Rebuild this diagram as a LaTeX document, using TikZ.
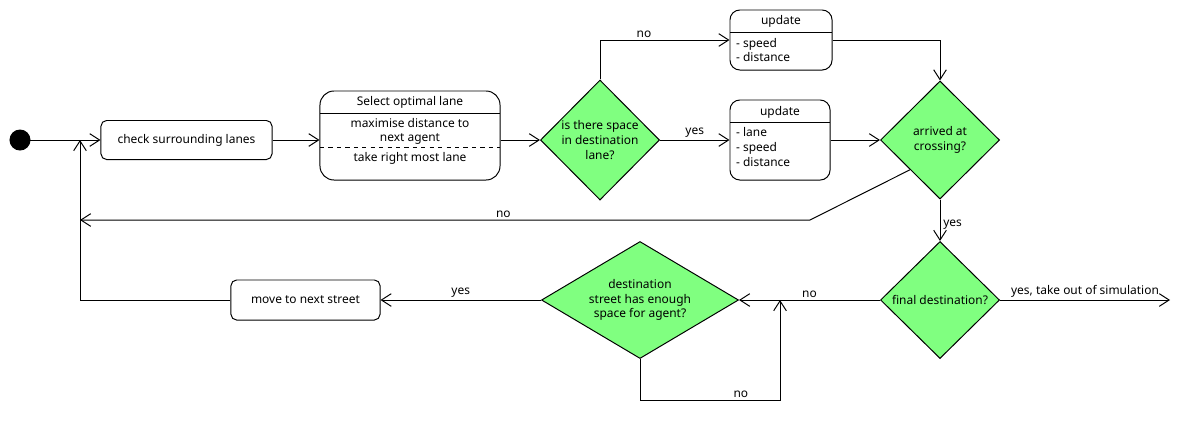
\documentclass[tikz,border=0pt]{standalone}
\usepackage{fontspec}
\setmainfont{Noto Sans}
\usetikzlibrary{shapes.geometric,arrows.meta}
\definecolor{decgreen}{HTML}{80FF80}
\begin{document}
\begin{tikzpicture}[x=0.025cm, y=-0.025cm, line width=0.7pt,
        font=\fontsize{8.5}{10.4}\selectfont,
        flow/.style={-{Straight Barb[length=7pt,width=9pt]}},
        tag/.style={above, inner sep=1.5pt},
        action/.style={draw, rounded corners=4pt, fill=white},
        decision/.style={draw, diamond, fill=decgreen, inner sep=0pt}]
        \useasboundingbox (0,0) rectangle (1200,430);

        \node[draw, circle, fill=black, minimum size=0.5cm, inner sep=0pt] (start) at (20,140) {};
        \node[action, minimum width=4.275cm, minimum height=0.975cm] (check) at (186.5,140) {check surrounding lanes};

        \node[action, rounded corners=10pt, minimum width=4.5cm, minimum height=2.225cm] (select) at (410,135.5) {};
        \node (selT) at (410,102) {Select optimal lane};
        \draw (320,113) -- (500,113);
        \node[align=center] (selA) at (410,131.5) {maximise distance to\\next agent};
        \draw[dashed] (320,147) -- (500,147);
        \node (selB) at (410,158) {take right most lane};

        \node[action, rounded corners=7pt, minimum width=2.55cm, minimum height=1.5cm] (upd1) at (781,40) {};
        \node (upd1T) at (781,21) {update};
        \draw (730,32) -- (832,32);
        \node[anchor=west, align=left] (upd1L) at (731,50) {- speed\\- distance};

        \node[action, rounded corners=7pt, minimum width=2.5cm, minimum height=2cm] (upd2) at (780,140) {};
        \node (upd2T) at (780,112) {update};
        \draw (730,122) -- (830,122);
        \node[anchor=west, align=left] (upd2L) at (731,147) {- lane\\- speed\\- distance};

        \node[decision, minimum width=2.975cm, minimum height=3cm, label={[align=center]center:is there space\\in destination\\lane?}] (d1) at (600,140) {};
        \node[decision, minimum width=2.975cm, minimum height=2.95cm, label={[align=center]center:arrived at\\crossing?}] (d2) at (940,140) {};
        \node[decision, minimum width=2.975cm, minimum height=2.925cm, label={center:final destination?}] (d3) at (940,300) {};
        \node[decision, minimum width=4.925cm, minimum height=2.925cm, label={[align=center]center:destination\\street has enough\\space for agent?}] (d4) at (640,300) {};

        \node[action, minimum width=3.725cm, minimum height=1cm] (move) at (305.5,300) {move to next street};

        \coordinate (join) at (80,140);
        \coordinate (bend) at (810,220);
        \coordinate (back) at (80,220);
        \coordinate (corner) at (80,300);
        \coordinate (exit) at (1170,300);
        \coordinate (loop) at (780,400);
        \coordinate (merge) at (780,300);

        \draw[flow] (start) -- (check);
        \draw[flow] (check.east) -- (check.east -| select.west);
        \draw[flow] (select.east |- d1) -- (d1);
        \draw[flow] (d1.north) |- node[pos=0.67, tag] (noA) {no} (upd1);
        \draw[flow] (d1) -- node[tag] (yesA) {yes} (upd2);
        \draw[flow] (upd1) -| (d2.north);
        \draw[flow] (upd2) -- (d2);
        \draw[flow] (d2.south west) -- (bend) -- node[pos=0.42, tag] (noB) {no} (back);
        \draw[flow] (d2) -- node[pos=0.6, right, inner sep=2pt] (yesB) {yes} (d3);
        \draw[flow] (d3) -- node[tag] (yesC) {yes, take out of simulation} (exit);
        \draw[flow] (d3) -- node[tag] (noC) {no} (d4);
        \draw[flow] (d4.south) |- node[pos=0.86, tag] (noD) {no} (loop) -- (merge);
        \draw[flow] (d4) -- node[tag] (yesD) {yes} (move);
        \draw[flow] (move.west) -- (corner) -- (join);
    \end{tikzpicture}
\end{document}
